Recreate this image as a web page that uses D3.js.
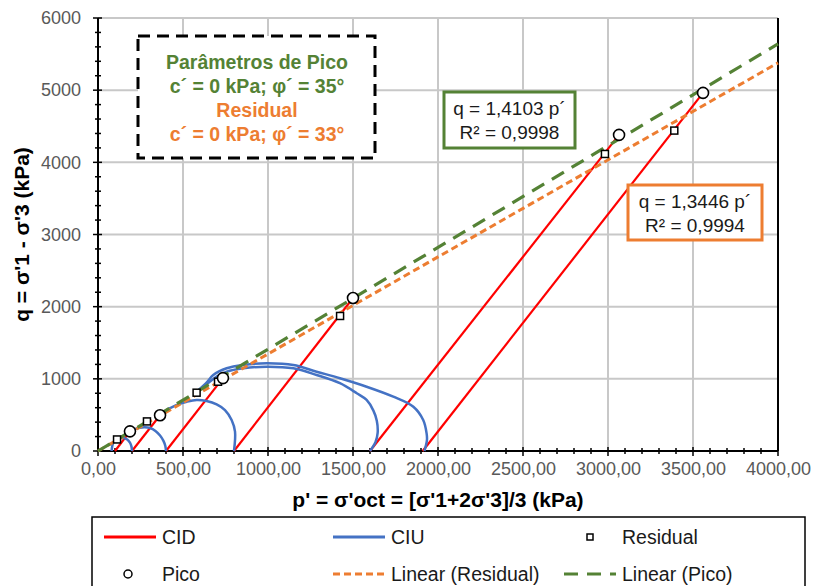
<!DOCTYPE html>
<html>
<head>
<meta charset="utf-8">
<script src="https://cdn.jsdelivr.net/npm/d3@7"></script>
<style>
  body { margin: 0; background: #fff; }
  text { font-family: "Liberation Sans", Arial, sans-serif; }
</style>
</head>
<body>
<svg id="chart" width="813" height="586"></svg>
<script>
// --- data (p', q in kPa) ---
var xTicks = [0, 500, 1000, 1500, 2000, 2500, 3000, 3500, 4000];
var yTicks = [0, 1000, 2000, 3000, 4000, 5000, 6000];

// CID drained paths: from p0 up to peak
var cidPaths = [
  [[100, 0], [188, 272]],
  [[200, 0], [365, 495]],
  [[400, 0], [735, 1010]],
  [[800, 0], [1500, 2120]],
  [[1600, 0], [3065, 4380]],
  [[1910, 0], [3559, 4962]]
];

// CIU undrained paths
var ciuPaths = [
  [[200, 0], [197, 60], [188, 115], [172, 158], [150, 180], [128, 182], [108, 165], [92, 125], [84, 70], [80, 0]],
  [[400, 0], [396, 70], [385, 140], [365, 215], [338, 278], [306, 318], [275, 328], [245, 322], [212, 300], [185, 265], [172, 245]],
  [[800, 0], [806, 267], [786, 430], [747, 568], [698, 647], [639, 693], [580, 707], [522, 683], [472, 647], [406, 572]],
  [[1600, 0], [1632, 120], [1645, 250], [1640, 420], [1620, 560], [1580, 707], [1522, 800], [1423, 939], [1286, 1053],
   [1149, 1146], [992, 1168], [855, 1146], [757, 1099], [698, 1030], [650, 945], [580, 820]],
  [[1920, 0], [1935, 152], [1933, 245], [1913, 430], [1855, 614], [1737, 753], [1580, 891], [1423, 1008], [1286, 1099],
   [1149, 1192], [992, 1216], [855, 1192], [757, 1146], [678, 1053], [640, 950], [580, 820]]
];

var residualPts = [[112, 160], [288, 410], [580, 808], [706, 960], [1424, 1871], [2982, 4116], [3390, 4440]];
var picoPts = [[188, 272], [365, 495], [735, 1010], [1500, 2120], [3065, 4380], [3559, 4962]];

// linear trend slopes (through origin)
var slopePico = 1.4103;
var slopeResidual = 1.3446;

var boxLines = ["Parâmetros de Pico", "c´ = 0 kPa; φ´ = 35°", "Residual", "c´ = 0 kPa; φ´ = 33°"];
var eqPico = ["q = 1,4103 p´", "R² = 0,9998"];
var eqResidual = ["q = 1,3446 p´", "R² = 0,9994"];

// --- colours ---
var red = "#ff0000", blue = "#4472c4", orange = "#ed7d31", green = "#548235";
var font = '"Liberation Sans", Arial, sans-serif';

var svg = d3.select("#chart");

var x = d3.scaleLinear().domain([0, 4000]).range([98, 778]);
var y = d3.scaleLinear().domain([0, 6000]).range([451, 18]);

// gridlines
svg.append("g").selectAll("line")
  .data(xTicks.slice(1))
  .enter().append("line")
  .attr("x1", function(d) { return x(d); }).attr("x2", function(d) { return x(d); })
  .attr("y1", y(0)).attr("y2", y(6000))
  .attr("stroke", "#c8c8c8").attr("stroke-width", 2);

svg.append("g").selectAll("line")
  .data(yTicks.slice(1))
  .enter().append("line")
  .attr("x1", x(0)).attr("x2", x(4000))
  .attr("y1", function(d) { return y(d); }).attr("y2", function(d) { return y(d); })
  .attr("stroke", "#c8c8c8").attr("stroke-width", 2);

// right border of plot
svg.append("line")
  .attr("x1", x(4000)).attr("x2", x(4000)).attr("y1", y(0)).attr("y2", y(6000))
  .attr("stroke", "#000").attr("stroke-width", 2);

// axes
var fmtX = function(d) { return d3.format(".2f")(d).replace(".", ","); };

var xAxis = d3.axisBottom(x).tickValues(xTicks).tickFormat(fmtX).tickSize(0).tickPadding(11);
var gx = svg.append("g").attr("transform", "translate(0," + y(0) + ")").call(xAxis);
gx.select(".domain").remove();
gx.selectAll("text").attr("font-size", 18).attr("fill", "#595959").style("font-family", font);

var yAxis = d3.axisLeft(y).tickValues(yTicks).tickFormat(d3.format("d")).tickSize(0).tickPadding(17);
var gy = svg.append("g").attr("transform", "translate(" + x(0) + ",0)").call(yAxis);
gy.select(".domain").remove();
gy.selectAll("text").attr("font-size", 18).attr("fill", "#595959").style("font-family", font);

// tick marks (crossing the axis line)
var minorX = d3.range(0, 4001, 100);
var minorY = d3.range(0, 6001, 200);

svg.append("g").selectAll("line")
  .data(minorX).enter().append("line")
  .attr("x1", function(d) { return x(d); }).attr("x2", function(d) { return x(d); })
  .attr("y1", function(d) { return y(0) - (d % 500 ? 3 : 4); })
  .attr("y2", function(d) { return y(0) + (d % 500 ? 3 : 5); })
  .attr("stroke", "#000").attr("stroke-width", 1.5);

svg.append("g").selectAll("line")
  .data(minorY).enter().append("line")
  .attr("y1", function(d) { return y(d); }).attr("y2", function(d) { return y(d); })
  .attr("x1", function(d) { return x(0) - (d % 1000 ? 3 : 5); })
  .attr("x2", function(d) { return x(0) + (d % 1000 ? 3 : 4); })
  .attr("stroke", "#000").attr("stroke-width", 1.5);

svg.append("line")
  .attr("x1", x(0)).attr("x2", x(4000)).attr("y1", y(0)).attr("y2", y(0))
  .attr("stroke", "#000").attr("stroke-width", 2);
svg.append("line")
  .attr("x1", x(0)).attr("x2", x(0)).attr("y1", y(0)).attr("y2", y(6000))
  .attr("stroke", "#000").attr("stroke-width", 2);

// axis titles
svg.append("text")
  .attr("transform", "translate(29," + ((y(0) + y(6000)) / 2) + ") rotate(-90)")
  .attr("text-anchor", "middle")
  .attr("font-size", 21).attr("font-weight", "bold").attr("fill", "#000")
  .text("q = σ'1 - σ'3 (kPa)");

svg.append("text")
  .attr("x", (x(0) + x(4000)) / 2).attr("y", 507)
  .attr("text-anchor", "middle")
  .attr("font-size", 21).attr("font-weight", "bold").attr("fill", "#000")
  .text("p' = σ'oct = [σ'1+2σ'3]/3 (kPa)");

// series
var line = d3.line().x(function(d) { return x(d[0]); }).y(function(d) { return y(d[1]); });
var smooth = d3.line().curve(d3.curveCatmullRom.alpha(0.5))
  .x(function(d) { return x(d[0]); }).y(function(d) { return y(d[1]); });

svg.append("g").selectAll("path")
  .data(cidPaths).enter().append("path")
  .attr("d", line).attr("fill", "none").attr("stroke", red).attr("stroke-width", 2.2);

svg.append("g").selectAll("path")
  .data(ciuPaths).enter().append("path")
  .attr("d", smooth).attr("fill", "none").attr("stroke", blue).attr("stroke-width", 2.5);

// trendlines
svg.append("path")
  .attr("d", line([[0, 0], [4000, 4000 * slopeResidual]]))
  .attr("fill", "none").attr("stroke", orange).attr("stroke-width", 3)
  .attr("stroke-dasharray", "7,4");

svg.append("path")
  .attr("d", line([[0, 0], [4000, 4000 * slopePico]]))
  .attr("fill", "none").attr("stroke", green).attr("stroke-width", 3.2)
  .attr("stroke-dasharray", "14,9");

// markers
svg.append("g").selectAll("rect")
  .data(residualPts).enter().append("rect")
  .attr("x", function(d) { return x(d[0]) - 3.5; })
  .attr("y", function(d) { return y(d[1]) - 3.5; })
  .attr("width", 7).attr("height", 7)
  .attr("fill", "#fff").attr("stroke", "#000").attr("stroke-width", 1.5);

svg.append("g").selectAll("circle")
  .data(picoPts).enter().append("circle")
  .attr("cx", function(d) { return x(d[0]); })
  .attr("cy", function(d) { return y(d[1]); })
  .attr("r", 5.5)
  .attr("fill", "#fff").attr("stroke", "#000").attr("stroke-width", 1.6);

// dashed parameter box
svg.append("rect")
  .attr("x", 138).attr("y", 36).attr("width", 237).attr("height", 122)
  .attr("fill", "#fff").attr("stroke", "#000").attr("stroke-width", 3)
  .attr("stroke-dasharray", "12,7");

svg.append("g").selectAll("text")
  .data(boxLines).enter().append("text")
  .attr("x", 257)
  .attr("y", function(d, i) { return 69 + i * 24; })
  .attr("text-anchor", "middle")
  .attr("font-size", 19.5).attr("font-weight", "bold")
  .attr("fill", function(d, i) { return i < 2 ? green : orange; })
  .text(function(d) { return d; });

// equation boxes
function eqBox(lines, bx, by, bw, bh, color) {
  svg.append("rect")
    .attr("x", bx).attr("y", by).attr("width", bw).attr("height", bh)
    .attr("fill", "#fff").attr("stroke", color).attr("stroke-width", 3);
  svg.append("g").selectAll("text")
    .data(lines).enter().append("text")
    .attr("x", bx + bw / 2)
    .attr("y", function(d, i) { return by + 23 + i * 24; })
    .attr("text-anchor", "middle")
    .attr("font-size", 19).attr("fill", "#1a1a1a")
    .text(function(d) { return d; });
}
eqBox(eqPico, 444, 92, 131, 56, green);
eqBox(eqResidual, 628, 185, 134, 55, orange);

// legend
svg.append("rect")
  .attr("x", 92).attr("y", 517).attr("width", 713).attr("height", 90)
  .attr("fill", "none").attr("stroke", "#000").attr("stroke-width", 1.5);

var legendItems = [
  { name: "CID", type: "line", color: red, col: 0, row: 0 },
  { name: "CIU", type: "line", color: blue, col: 1, row: 0 },
  { name: "Residual", type: "square", col: 2, row: 0 },
  { name: "Pico", type: "circle", col: 0, row: 1 },
  { name: "Linear (Residual)", type: "dash", color: orange, dash: "7,4", col: 1, row: 1 },
  { name: "Linear (Pico)", type: "dash", color: green, dash: "14,9", col: 2, row: 1 }
];
var colX = [104, 333, 564];
var rowY = [537, 574];

legendItems.forEach(function(it) {
  var lx = colX[it.col], ly = rowY[it.row];
  var g = svg.append("g");
  if (it.type === "line" || it.type === "dash") {
    g.append("line").attr("x1", lx).attr("x2", lx + 52).attr("y1", ly).attr("y2", ly)
      .attr("stroke", it.color).attr("stroke-width", 3)
      .attr("stroke-dasharray", it.dash || null);
  } else if (it.type === "square") {
    g.append("rect").attr("x", lx + 26 - 3).attr("y", ly - 3).attr("width", 6).attr("height", 6)
      .attr("fill", "#fff").attr("stroke", "#000").attr("stroke-width", 1.5);
  } else {
    g.append("circle").attr("cx", lx + 24).attr("cy", ly).attr("r", 4)
      .attr("fill", "#fff").attr("stroke", "#000").attr("stroke-width", 1.5);
  }
  g.append("text").attr("x", lx + 58).attr("y", ly + 7)
    .attr("font-size", 19.5).attr("fill", "#1a1a1a")
    .text(it.name);
});
</script>
</body>
</html>
